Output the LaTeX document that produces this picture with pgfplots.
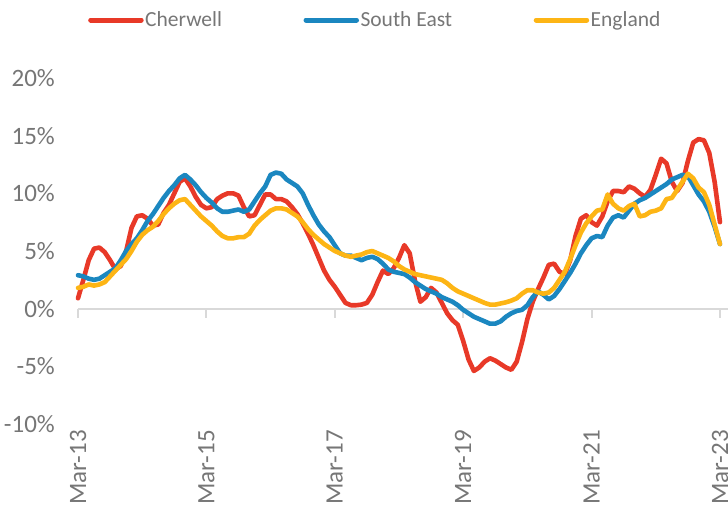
\documentclass[border=0pt]{standalone}
\usepackage{fontspec}
\setmainfont{Carlito}
\usepackage{pgfplots}
\pgfplotsset{compat=1.18}
\definecolor{cher}{RGB}{232,57,40}
\definecolor{se}{RGB}{27,135,192}
\definecolor{eng}{RGB}{253,181,21}
\definecolor{txt}{RGB}{118,118,118}
\definecolor{axg}{RGB}{217,217,217}
\begin{document}
\begin{tikzpicture}
\useasboundingbox (-78pt,-89pt) rectangle (650pt,424pt);
\begin{axis}[
  at={(0pt,0pt)}, anchor=south west,
  scale only axis, width=650pt, height=346pt,
  xmin=0, xmax=121.5, ymin=-10, ymax=20,
  axis line style={draw=none},
  xtick={0,24,48,72,96,120},
  xticklabels={Mar-13,Mar-15,Mar-17,Mar-19,Mar-21,Mar-23},
  ytick={-10,-5,0,5,10,15,20},
  yticklabel={\pgfmathprintnumber{\tick}\%},
  /pgf/number format/assume math mode=true,
  major tick length=0pt,
  xtick pos=bottom, ytick pos=left,
  x tick label style={rotate=90, anchor=east, inner sep=0pt, font=\fontsize{25}{30}\selectfont, text=txt},
  xticklabel shift=6pt,
  y tick label style={anchor=east, inner sep=0pt, font=\fontsize{25}{30}\selectfont, text=txt},
  yticklabel shift=23pt,
  clip=false,
  legend columns=3,
  legend style={draw=none, fill=none, at={(0.0154,1.1676)}, anchor=west,
    font=\fontsize{21.5}{26}\selectfont, text=txt, inner sep=0pt,
    nodes={inner sep=1.5pt},
    /tikz/every even column/.append style={column sep=80pt}},
  legend image code/.code={\draw[#1, line width=5pt, line cap=round] (2.5pt,0pt) -- (53pt,0pt);},
  every axis plot/.append style={line width=4.6pt, line join=round, line cap=round},
]
\draw[axg, line width=2pt] (axis cs:0,0) -- (axis cs:121.5,0);
\pgfplotsinvokeforeach{0,24,48,72,96,120}{\draw[axg, line width=2pt] (axis cs:#1,0) -- ([yshift=-9pt]axis cs:#1,0);}
\addplot[cher] coordinates {
(0,0.9) (1,2.5) (2,4.2) (3,5.2) (4,5.3) (5,4.9) (6,4.2) (7,3.4) (8,3.7) (9,5.0)
(10,7.0) (11,8.0) (12,8.1) (13,7.8) (14,7.2) (15,7.3) (16,8.3) (17,9.0) (18,10.0) (19,11.0)
(20,11.3) (21,10.6) (22,9.7) (23,9.0) (24,8.7) (25,8.8) (26,9.5) (27,9.8) (28,10.0) (29,10.0)
(30,9.8) (31,8.8) (32,8.0) (33,8.1) (34,9.0) (35,9.9) (36,9.9) (37,9.5) (38,9.5) (39,9.3)
(40,8.8) (41,8.2) (42,7.4) (43,6.5) (44,5.5) (45,4.4) (46,3.3) (47,2.5) (48,1.9) (49,1.2)
(50,0.5) (51,0.3) (52,0.3) (53,0.35) (54,0.5) (55,1.2) (56,2.3) (57,3.3) (58,3.0) (59,3.5)
(60,4.4) (61,5.5) (62,4.8) (63,2.4) (64,0.6) (65,1.0) (66,1.8) (67,1.4) (68,0.5) (69,-0.4)
(70,-1.0) (71,-1.4) (72,-2.8) (73,-4.4) (74,-5.4) (75,-5.1) (76,-4.6) (77,-4.3) (78,-4.5) (79,-4.8)
(80,-5.1) (81,-5.3) (82,-4.6) (83,-2.9) (84,-0.9) (85,0.6) (86,1.7) (87,2.7) (88,3.8) (89,3.9)
(90,3.2) (91,3.0) (92,4.2) (93,6.3) (94,7.8) (95,8.1) (96,7.5) (97,7.2) (98,8.0) (99,9.3)
(100,10.2) (101,10.2) (102,10.1) (103,10.6) (104,10.4) (105,10.0) (106,9.7) (107,10.3) (108,11.6) (109,13.0)
(110,12.6) (111,11.0) (112,10.2) (113,10.9) (114,12.8) (115,14.4) (116,14.7) (117,14.6) (118,13.5) (119,11.0)
(120,7.5)};
\addlegendentry{Cherwell}
\addplot[se] coordinates {
(0,2.9) (1,2.8) (2,2.6) (3,2.5) (4,2.6) (5,2.9) (6,3.2) (7,3.5) (8,4.2) (9,5.0)
(10,5.6) (11,6.1) (12,6.8) (13,7.6) (14,8.2) (15,8.9) (16,9.6) (17,10.2) (18,10.7) (19,11.3)
(20,11.6) (21,11.2) (22,10.7) (23,10.1) (24,9.6) (25,9.2) (26,8.7) (27,8.4) (28,8.4) (29,8.5)
(30,8.6) (31,8.4) (32,8.6) (33,9.3) (34,10.0) (35,10.6) (36,11.6) (37,11.8) (38,11.7) (39,11.2)
(40,10.9) (41,10.6) (42,10.0) (43,9.0) (44,8.1) (45,7.3) (46,6.7) (47,6.2) (48,5.5) (49,4.8)
(50,4.6) (51,4.6) (52,4.4) (53,4.2) (54,4.4) (55,4.5) (56,4.3) (57,3.9) (58,3.4) (59,3.2)
(60,3.1) (61,3.0) (62,2.7) (63,2.3) (64,2.0) (65,1.7) (66,1.5) (67,1.3) (68,1.0) (69,0.8)
(70,0.6) (71,0.3) (72,-0.1) (73,-0.4) (74,-0.7) (75,-0.9) (76,-1.1) (77,-1.3) (78,-1.3) (79,-1.1)
(80,-0.7) (81,-0.4) (82,-0.2) (83,-0.1) (84,0.3) (85,1.0) (86,1.5) (87,1.2) (88,0.8) (89,1.1)
(90,1.7) (91,2.4) (92,3.1) (93,3.9) (94,4.8) (95,5.5) (96,6.1) (97,6.3) (98,6.2) (99,7.2)
(100,7.9) (101,8.1) (102,7.9) (103,8.5) (104,9.1) (105,9.4) (106,9.6) (107,9.9) (108,10.2) (109,10.5)
(110,10.8) (111,11.2) (112,11.4) (113,11.6) (114,11.5) (115,10.7) (116,9.9) (117,9.3) (118,8.4) (119,7.1)
(120,5.6)};
\addlegendentry{South East}
\addplot[eng] coordinates {
(0,1.8) (1,1.9) (2,2.1) (3,2.0) (4,2.1) (5,2.3) (6,2.8) (7,3.3) (8,3.8) (9,4.3)
(10,5.0) (11,5.8) (12,6.4) (13,6.8) (14,7.1) (15,7.6) (16,8.2) (17,8.7) (18,9.1) (19,9.4)
(20,9.5) (21,9.0) (22,8.5) (23,8.0) (24,7.6) (25,7.2) (26,6.7) (27,6.3) (28,6.1) (29,6.1)
(30,6.2) (31,6.2) (32,6.5) (33,7.2) (34,7.7) (35,8.1) (36,8.5) (37,8.7) (38,8.7) (39,8.6)
(40,8.3) (41,8.0) (42,7.5) (43,6.9) (44,6.4) (45,6.0) (46,5.6) (47,5.3) (48,5.0) (49,4.8)
(50,4.6) (51,4.5) (52,4.6) (53,4.7) (54,4.9) (55,5.0) (56,4.8) (57,4.6) (58,4.4) (59,4.1)
(60,3.7) (61,3.4) (62,3.2) (63,3.0) (64,2.9) (65,2.8) (66,2.7) (67,2.6) (68,2.5) (69,2.2)
(70,1.8) (71,1.5) (72,1.3) (73,1.1) (74,0.9) (75,0.7) (76,0.5) (77,0.35) (78,0.35) (79,0.45)
(80,0.55) (81,0.7) (82,0.9) (83,1.3) (84,1.6) (85,1.6) (86,1.4) (87,1.3) (88,1.4) (89,1.8)
(90,2.5) (91,3.2) (92,4.3) (93,5.5) (94,6.6) (95,7.4) (96,8.0) (97,8.5) (98,8.6) (99,9.9)
(100,9.1) (101,8.7) (102,8.5) (103,8.9) (104,9.1) (105,8.0) (106,8.1) (107,8.4) (108,8.5) (109,8.7)
(110,9.5) (111,9.6) (112,10.3) (113,11.0) (114,11.7) (115,11.3) (116,10.5) (117,10.1) (118,9.0) (119,7.3)
(120,5.6)};
\addlegendentry{England}
\end{axis}
\end{tikzpicture}
\end{document}
